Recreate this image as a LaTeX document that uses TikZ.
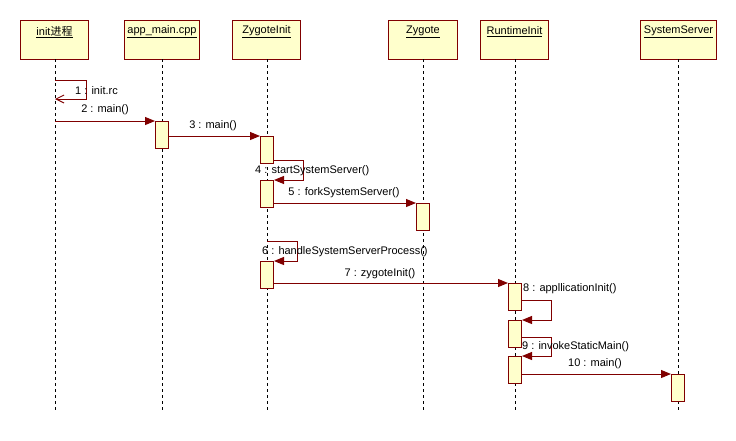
\documentclass[tikz,border=0pt]{standalone}
\usepackage{fontspec}
\setmainfont{Liberation Sans}
\newfontfamily\cjk{Noto Sans CJK SC}
\usetikzlibrary{arrows.meta}
\definecolor{brd}{HTML}{800000}
\definecolor{fillc}{HTML}{FFFFCC}
\begin{document}
\begin{tikzpicture}[x=1pt,y=-1pt,font=\fontsize{11}{13}\selectfont,
  obj/.style={draw=brd,fill=fillc,line width=1pt,minimum height=39pt,anchor=north west,inner sep=0pt},
  hlabel/.style={inner sep=0pt,anchor=center},
  act/.style={draw=brd,fill=fillc,line width=1pt,minimum width=13pt,minimum height=27pt,anchor=north,inner sep=0pt},
  life/.style={draw=black,line width=1pt,dash pattern=on 3pt off 3pt},
  msg/.style={draw=brd,line width=1pt,-{Triangle[length=10pt,width=8pt]}},
  retmsg/.style={draw=brd,line width=1pt,-{Straight Barb[length=8pt,width=8pt]}},
  lbl/.style={inner sep=0pt,text=black}]
\fill[white] (0,0) rectangle (736,440);
\useasboundingbox (0,0) rectangle (736,440);
% headers
\node[obj,minimum width=68pt] (h1) at (20,20) {};
\node[obj,minimum width=75pt] (h2) at (124,20) {};
\node[obj,minimum width=68pt] (h3) at (232,20) {};
\node[obj,minimum width=69pt] (h4) at (388,20) {};
\node[obj,minimum width=68pt] (h5) at (480,20) {};
\node[obj,minimum width=76pt] (h6) at (640,20) {};
\node[hlabel] (t1) at (h1.north |- 0,32) {\underline{init\cjk{进程}}};
\node[hlabel] (t2) at (h2.north |- 0,32) {\underline{app\_main.cpp}};
\node[hlabel] (t3) at (h3.north |- 0,32) {\underline{ZygoteInit}};
\node[hlabel] (t4) at (h4.north |- 0,32) {\underline{Zygote}};
\node[hlabel] (t5) at (h5.north |- 0,32) {\underline{RuntimeInit}};
\node[hlabel] (t6) at (h6.north |- 0,32) {\underline{SystemServer}};
% lifelines
\coordinate (l1) at (55,59);
\coordinate (l2) at (162,59);
\coordinate (l3) at (267,59);
\coordinate (l4) at (423,59);
\coordinate (l5) at (515,59);
\coordinate (l6) at (678,59);
\foreach \i in {1,...,6} {\draw[life] (l\i) -- (l\i |- 0,410);}
% activations
\node[act] (a2) at (l2 |- 0,121) {};
\node[act] (a3) at (l3 |- 0,136) {};
\node[act] (a4) at (l3 |- 0,180) {};
\node[act] (a5) at (l4 |- 0,203) {};
\node[act] (a6) at (l3 |- 0,261) {};
\node[act] (a7) at (l5 |- 0,283) {};
\node[act] (a8) at (l5 |- 0,320) {};
\node[act] (a9) at (l5 |- 0,356) {};
\node[act] (a10) at (l6 |- 0,374) {};
% messages
\draw[retmsg] (l1 |- 0,80) -- (86,80) -- (86,99) -- (l1 |- 0,99);
\node[lbl,anchor=west] (m1) at (75,91) {1 : init.rc};
\draw[msg] (l1 |- a2.north) -- (a2.north west);
\node[lbl] (m2) at (105,110) {2 : main()};
\draw[msg] (a2.east |- 0,136) -- (a3.north west);
\node[lbl] (m3) at (213,126) {3 : main()};
\draw[msg] (a3.east |- 0,160) -- (303,160) -- (303,180) -- (a4.north east);
\node[lbl,anchor=west] (m4) at (255,171) {4 : startSystemServer()};
\draw[msg] (a4.east |- 0,203) -- (a5.north west);
\node[lbl] (m5) at (344,193) {5 : forkSystemServer()};
\draw[msg] (l3 |- 0,241) -- (297,241) -- (297,261) -- (a6.north east);
\node[lbl,anchor=west] (m6) at (262,252) {6 : handleSystemServerProcess()};
\draw[msg] (a6.east |- 0,283) -- (a7.north west);
\node[lbl] (m7) at (380,274) {7 : zygoteInit()};
\draw[msg] (a7.east |- 0,300) -- (551,300) -- (551,320) -- (a8.north east);
\node[lbl,anchor=west] (m8) at (523,289) {8 : appllicationInit()};
\draw[msg] (a8.east |- 0,337) -- (551,337) -- (551,356) -- (a9.north east);
\node[lbl,anchor=west] (m9) at (522,347) {9 : invokeStaticMain()};
\draw[msg] (a9.east |- 0,374) -- (a10.north west);
\node[lbl] (m10) at (595,364) {10 : main()};
\end{tikzpicture}
\end{document}
